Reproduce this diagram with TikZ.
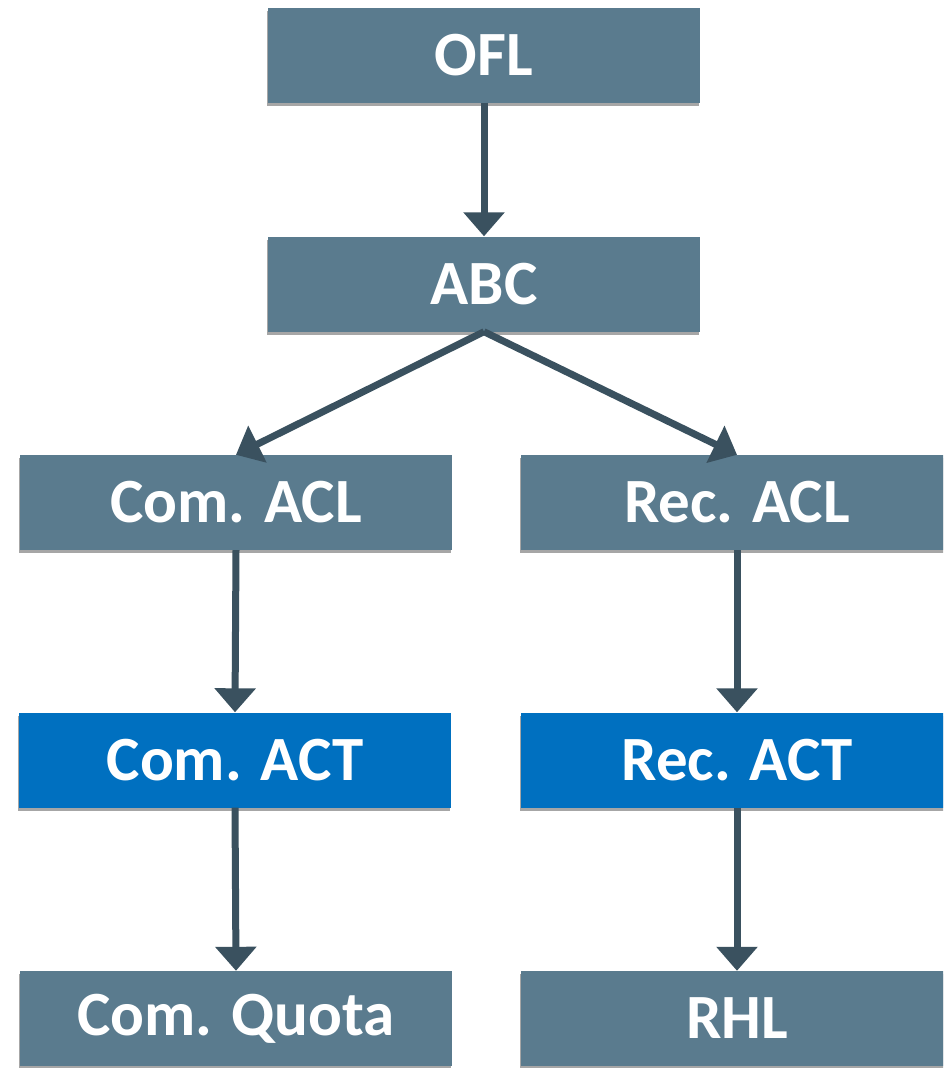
\documentclass[tikz,border=0pt]{standalone}
\usepackage{fontspec}
\setmainfont{Carlito}
\usetikzlibrary{arrows.meta,shadows,calc}
\definecolor{boxgray}{RGB}{90,123,142}
\definecolor{boxblue}{RGB}{0,112,192}
\definecolor{arrowc}{RGB}{58,81,95}
\tikzset{
  box/.style={rectangle, fill=boxgray, text=white, font=\fontsize{63}{63}\selectfont\bfseries,
    minimum width=432pt, minimum height=95pt, inner sep=0pt,
    drop shadow={shadow xshift=-1pt, shadow yshift=-3pt, opacity=0.35, fill=black}},
  bluebox/.style={box, fill=boxblue},
  conn/.style={draw=arrowc, line width=7pt, -{Triangle[width=40pt,length=24pt]}}
}
\begin{document}
\begin{tikzpicture}[x=1pt,y=-1pt]
\useasboundingbox (0,0) rectangle (943,1068);
\clip (0,0) rectangle (943,1068);
\fill[white] (0,0) rectangle (943,1068);
\node[box] (ofl) at (484,55) {OFL};
\node[box] (abc) at (484,284) {ABC};
\node[box] (cacl) at (236,502.5) {Com. ACL};
\node[box] (racl) at (737,502.5) {Rec. ACL};
\node[bluebox] (cact) at (235,760) {Com. ACT};
\node[bluebox] (ract) at (737,760) {Rec. ACT};
\node[box] (cq) at (236,1018.5) {Com. Quota};
\node[box] (rhl) at (737,1018.5) {RHL};
\draw[conn] (ofl.south) -- (abc.north);
\draw[conn] (abc.south) -- (cacl.north);
\draw[conn] (abc.south) -- (racl.north);
\draw[conn] (cacl.south) -- (cact.north);
\draw[conn] (racl.south) -- (ract.north);
\draw[conn] (cact.south) -- (cq.north);
\draw[conn] (ract.south) -- (rhl.north);
\end{tikzpicture}
\end{document}
